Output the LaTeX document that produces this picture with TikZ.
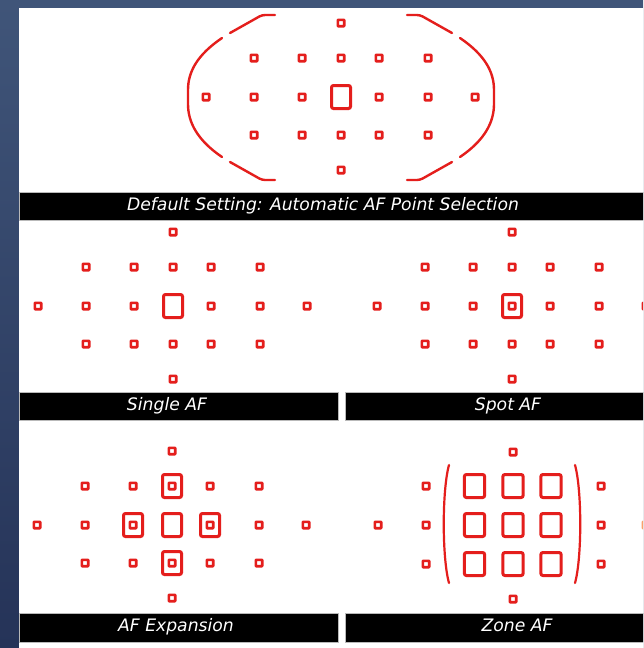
\documentclass[tikz,border=0pt]{standalone}
\usepackage{fontspec}
\newfontfamily\capfont{DejaVu Sans}
\usetikzlibrary{positioning}
\definecolor{afred}{RGB}{228,30,28}
\definecolor{bgtop}{RGB}{64,85,121}
\definecolor{bgbot}{RGB}{37,51,88}
\tikzset{
  afpt/.style={draw=afred, line width=2.6pt, rounded corners=0.6pt, minimum size=6.4pt, inner sep=0pt},
  afbig/.style={draw=afred, line width=3pt, rounded corners=2pt, minimum width=19pt, minimum height=23pt, inner sep=0pt},
  afzone/.style={afbig, minimum width=20.2pt},
  vfframe/.style={draw=afred, line width=2.4pt, line cap=round},
  capbar/.style={fill=black, draw=gray!55, line width=0.8pt},
  barlbl/.style={text=white, font=\capfont\itshape\fontsize{17.2}{19}\selectfont, text height=12pt, text depth=4pt, inner sep=0pt},
}
% small AF points of one panel, centre point left out
\newcommand{\afgrid}[3]{%
  \foreach \dx/\dy [count=\k] in {0/-74,-87/-39,-39/-39,0/-39,38/-39,87/-39,-135/0,-87/0,-39/0,38/0,87/0,134/0,-87/38,-39/38,0/38,38/38,87/38,0/73}
    \node[afpt] (#1\k) at ({#2+\dx},{#3+\dy}) {};
}

\begin{document}
\begin{tikzpicture}[x=1pt, y=-1pt]
\clip (0,0) rectangle (643,648);
\shade[top color=bgtop, bottom color=bgbot] (0,0) rectangle (643,648);
\fill[white] (19,8) rectangle (650,650);

% default setting
\afgrid{dflt}{341}{97}
\node[afbig] (dfltc) at (341,97) {};
\draw[vfframe, rounded corners=3pt] (230,33) -- (262,15) -- (275,15);
\draw[vfframe] (222,38) .. controls (197,55) and (188,72) .. (188,90) -- (188,104) .. controls (188,122) and (197,140) .. (222,157);
\draw[vfframe, rounded corners=3pt] (230,162) -- (262,180) -- (275,180);
\draw[vfframe, rounded corners=3pt] (452,33) -- (420,15) -- (407,15);
\draw[vfframe] (460,38) .. controls (485,55) and (494,72) .. (494,90) -- (494,104) .. controls (494,122) and (485,140) .. (460,157);
\draw[vfframe, rounded corners=3pt] (452,162) -- (420,180) -- (407,180);
\path[capbar] (19,192) rectangle (650,220);
\node[barlbl] (capdflt) at (323,206) {Default Setting: Automatic AF Point Selection};

% single AF
\afgrid{sgl}{173}{306}
\node[afbig] (sglc) at (173,306) {};
\path[capbar] (19,392) rectangle (338,420);
\node[barlbl] (capsgl) at (167,406) {Single AF};

% spot AF
\afgrid{spt}{512}{306}
\node[afbig] (sptc) at (512,306) {};
\node[afpt] (sptd) at (512,306) {};
\path[capbar] (345,392) rectangle (650,420);
\node[barlbl] (capspt) at (508,406) {Spot AF};

% AF expansion
\afgrid{exp}{172}{525}
\node[afbig] (expc) at (172,525) {};
\foreach \k in {4,9,10,15}
  \node[afbig] (expx\k) at (exp\k) {};
\path[capbar] (19,613) rectangle (338,642);
\node[barlbl] (capexp) at (176,627) {AF Expansion};

% zone AF
\foreach \dx/\dy [count=\k] in {0/-73,-87/-39,88/-39,-135/0,-87/0,88/0,-87/39,88/39,0/74}
  \node[afpt] (zn\k) at ({513+\dx},{525+\dy}) {};
\node[afpt, draw=orange!70!afred!60] (znedge) at (646,525) {};
\foreach \dx [count=\i] in {-38.5,0,38}
  \foreach \dy [count=\j] in {-39,0,39}
    \node[afzone] (znb\i\j) at ({513+\dx},{525+\dy}) {};
\draw[vfframe, line width=2.2pt] (449,465) .. controls (442,490) and (442,558) .. (449,583);
\draw[vfframe, line width=2.2pt] (575,465) .. controls (582,490) and (582,558) .. (575,583);
\path[capbar] (345,613) rectangle (650,642);
\node[barlbl] (capzone) at (517,627) {Zone AF};
\end{tikzpicture}
\end{document}
